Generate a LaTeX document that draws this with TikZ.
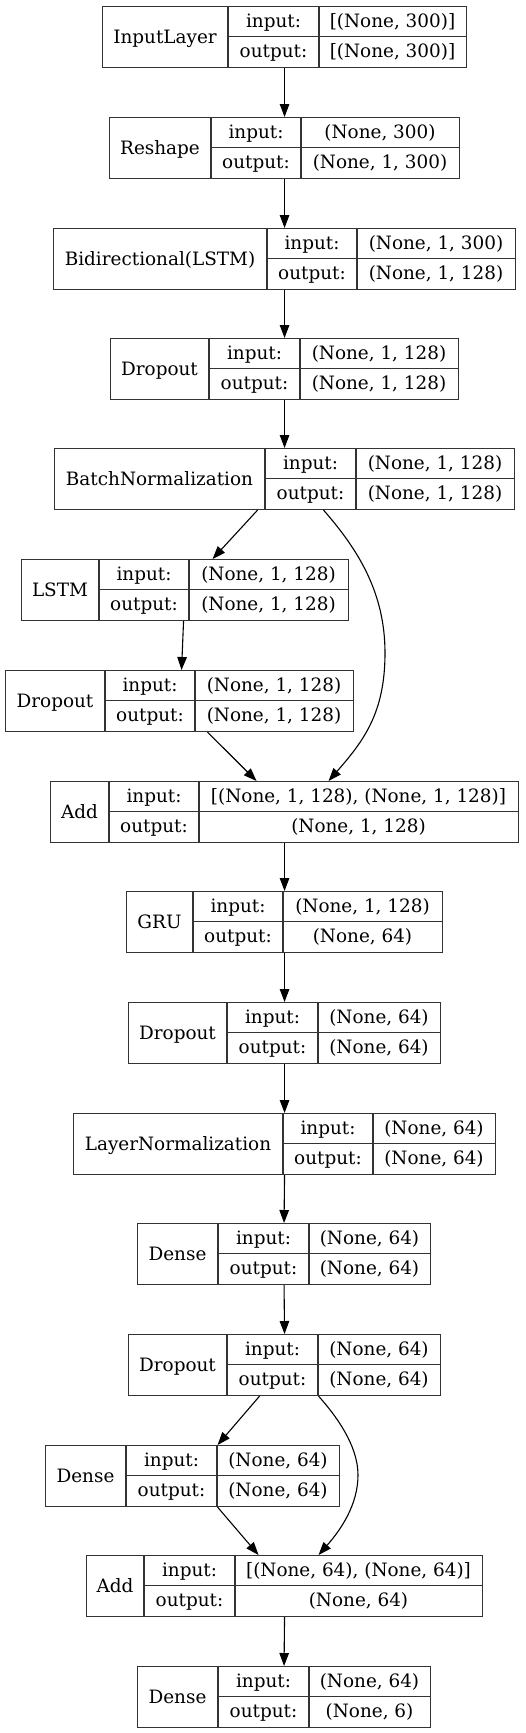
\documentclass[tikz,border=0pt]{standalone}
\usepackage{fontspec}
\setmainfont{DejaVu Serif}
\usetikzlibrary{arrows.meta}
\tikzset{
  kbox/.style={draw=black!80, line width=1.1pt, inner sep=0pt, fill=none},
  kcell/.style={draw=black!80, line width=1.1pt},
  ktxt/.style={anchor=base, inner sep=0pt, font=\fontsize{18.4}{21}\selectfont},
  karr/.style={draw=black, line width=1.1pt, -{Triangle[length=13pt,width=9.5pt]}},
}
\newcommand\layerbox[9]{%
  \node[kbox, minimum width={(#3-#2)*1pt}, minimum height=61pt, anchor=north west] (#1) at (#2,#6) {};
  \draw[kcell] (#4,#6) -- (#4,#6+61) (#5,#6) -- (#5,#6+61) (#4,#6+30.5) -- (#3,#6+30.5);
  \node[ktxt] at ({(#2+#4)/2},{#6+37}) {#7};
  \node[ktxt] at ({(#4+#5)/2},{#6+21.5}) {input:};
  \node[ktxt] at ({(#4+#5)/2},{#6+51.5}) {output:};
  \node[ktxt] at ({(#5+#3)/2},{#6+21.5}) {#8};
  \node[ktxt] at ({(#5+#3)/2},{#6+51.5}) {#9};
}
\begin{document}
\begin{tikzpicture}[x=1pt,y=-1pt]
\useasboundingbox[fill=white] (0,0) rectangle (525,1733);
\layerbox{inp}{102}{466}{228}{319}{6}{InputLayer}{[(None, 300)]}{[(None, 300)]}
\layerbox{resh}{109}{459}{211}{301}{117}{Reshape}{(None, 300)}{(None, 1, 300)}
\layerbox{bidi}{53}{515}{267}{357}{228}{Bidirectional(LSTM)}{(None, 1, 300)}{(None, 1, 128)}
\layerbox{drop1}{110}{458}{209}{300}{338}{Dropout}{(None, 1, 128)}{(None, 1, 128)}
\layerbox{bn}{54}{514}{265}{356}{448}{BatchNormalization}{(None, 1, 128)}{(None, 1, 128)}
\layerbox{lstm}{21}{348}{99}{189}{559}{LSTM}{(None, 1, 128)}{(None, 1, 128)}
\layerbox{drop2}{5}{353}{105}{195}{670}{Dropout}{(None, 1, 128)}{(None, 1, 128)}
\layerbox{add}{50}{518}{109}{199}{781}{Add}{[(None, 1, 128), (None, 1, 128)]}{(None, 1, 128)}
\layerbox{gru}{126}{442}{193}{283}{891}{GRU}{(None, 1, 128)}{(None, 64)}
\layerbox{drop3}{128}{440}{227}{318}{1002}{Dropout}{(None, 64)}{(None, 64)}
\layerbox{ln}{73}{495}{283}{373}{1113}{LayerNormalization}{(None, 64)}{(None, 64)}
\layerbox{dense1}{137}{430}{218}{309}{1223}{Dense}{(None, 64)}{(None, 64)}
\layerbox{drop4}{128}{440}{227}{318}{1334}{Dropout}{(None, 64)}{(None, 64)}
\layerbox{dense2}{45}{339}{126}{217}{1445}{Dense}{(None, 64)}{(None, 64)}
\layerbox{add2}{86}{482}{144}{235}{1555}{Add}{[(None, 64), (None, 64)]}{(None, 64)}
\layerbox{dense3}{137}{430}{218}{309}{1666}{Dense}{(None, 64)}{(None, 6)}
% connectors
\draw[karr] (inp.south) -- (resh.north);
\draw[karr] (resh.south) -- (bidi.north);
\draw[karr] (bidi.south) -- (drop1.north);
\draw[karr] (drop1.south) -- (bn.north);
\draw[karr] ([xshift=-27pt]bn.south) -- ([xshift=27.5pt]lstm.north);
\coordinate (skipA) at (385,653);
\draw[karr] ([xshift=39pt]bn.south) .. controls +(35,40) and +(0,-60) .. (skipA) .. controls +(0,60) and +(35,-40) .. ([xshift=44pt]add.north);
\draw[karr] ([xshift=-1.5pt]lstm.south) -- ([xshift=2pt]drop2.north);
\draw[karr] ([xshift=28pt]drop2.south) -- ([xshift=-28pt]add.north);
\draw[karr] (add.south) -- (gru.north);
\draw[karr] (gru.south) -- (drop3.north);
\draw[karr] (drop3.south) -- (ln.north);
\draw[karr] (ln.south) -- (dense1.north);
\draw[karr] (dense1.south) -- (drop4.north);
\draw[karr] ([xshift=-25pt]drop4.south) -- ([xshift=25pt]dense2.north);
\coordinate (skipB) at (358,1475);
\draw[karr] ([xshift=34pt]drop4.south) .. controls +(17,19) and +(0,-30) .. (skipB) .. controls +(0,30) and +(22,-25) .. ([xshift=34pt]add2.north);
\draw[karr] ([xshift=25pt]dense2.south) -- ([xshift=-26pt]add2.north);
\draw[karr] (add2.south) -- (dense3.north);
\end{tikzpicture}
\end{document}
